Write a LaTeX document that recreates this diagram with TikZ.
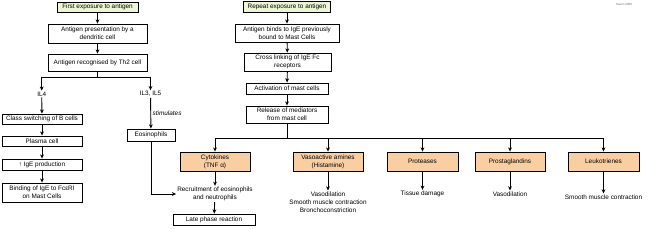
\documentclass[tikz,border=0pt]{standalone}
\usepackage{fontspec}
\setmainfont{Liberation Sans}
\usetikzlibrary{arrows.meta}
\definecolor{startgreen}{RGB}{236,246,212}
\definecolor{medorange}{RGB}{249,207,162}
\tikzset{
  every node/.style={font=\fontsize{6.4}{8}\selectfont, inner sep=0.5pt},
  box/.style={draw=black, line width=0.9pt, fill=white, rectangle, align=center, inner sep=1pt},
  startbox/.style={box, fill=startgreen},
  medbox/.style={box, fill=medorange},
  plain/.style={align=center, inner sep=1pt},
  conn/.style={line width=0.9pt, draw=black},
  arr/.style={conn, -{Stealth[length=4.2pt,width=3.8pt]}}
}
\begin{document}
\begin{tikzpicture}[x=1pt,y=-1pt]
\useasboundingbox (0,0) rectangle (648,228);
% Left column
\node[startbox, minimum width=81pt, minimum height=10pt] (f1) at (97.5,7) {First exposure to antigen};
\node[box, minimum width=99pt, minimum height=19pt] (a1) at (97.5,33.5) {Antigen presentation by a\\dendritic cell};
\node[box, minimum width=99pt, minimum height=17pt] (a2) at (97.5,62.5) {Antigen recognised by Th2 cell};
\coordinate (j1) at (97.5,77);
\node[plain] (il4) at (41.7,94) {IL4};
\node[plain] (il35) at (150.5,94) {IL3, IL5};
\node[box, minimum width=80pt, minimum height=10pt] (b1) at (42,119) {Class switching of B cells};
\node[box, minimum width=80pt, minimum height=10pt] (b2) at (42,141) {Plasma cell};
\node[box, minimum width=80pt, minimum height=11pt] (b3) at (42,164.5) {↑ IgE production};
\node[box, minimum width=80pt, minimum height=19pt] (b4) at (42,192.5) {Binding of IgE to FcεRI\\on Mast Cells};
\node[box, minimum width=48pt, minimum height=12pt] (eos) at (151,135) {Eosinophils};
% Right column
\node[startbox, minimum width=87pt, minimum height=11pt] (r0) at (287,6.5) {Repeat exposure to antigen};
\node[box, minimum width=104pt, minimum height=18pt] (r1) at (287,33) {Antigen binds to IgE previously\\bound to Mast Cells};
\node[box, minimum width=87pt, minimum height=18pt] (r2) at (287.5,62) {Cross linking of IgE Fc\\receptors};
\node[box, minimum width=82pt, minimum height=11pt] (r3) at (287,88.5) {Activation of mast cells};
\node[box, minimum width=82pt, minimum height=17pt] (r4) at (287,114.5) {Release of mediators\\from mast cell};
\coordinate (j2) at (287,138);
% Mediators
\node[medbox, minimum width=70pt, minimum height=19pt] (m1) at (215,161.5) {Cytokines\\(TNF α)};
\node[medbox, minimum width=70pt, minimum height=19pt] (m2) at (328,161.5) {Vasoactive amines\\(Histamine)};
\node[medbox, minimum width=71pt, minimum height=19pt] (m3) at (422.5,161.5) {Proteases};
\node[medbox, minimum width=70pt, minimum height=19pt] (m4) at (510,161.5) {Prostaglandins};
\node[medbox, minimum width=71pt, minimum height=19pt] (m5) at (603.5,161.5) {Leukotrienes};
% Effects
\node[plain] (rec) at (215,194) {Recruitment of eosinophils\\and neutrophils};
\node[box, minimum width=82pt, minimum height=11pt] (late) at (214,219.5) {Late phase reaction};
\node[plain] (e2) at (328,202) {Vasodilation\\Smooth muscle contraction\\Bronchoconstriction};
\node[plain] (e3) at (422.5,194) {Tissue damage};
\node[plain] (e4) at (510,194) {Vasodilation};
\node[plain] (e5) at (603.5,197) {Smooth muscle contraction};
\node[plain, font=\fontsize{3}{4}\selectfont, text=black!60] (src) at (624,4) {Saxon 2009};
% Connectors left
\draw[arr] (f1) -- (a1);
\draw[arr] (a1) -- (a2);
\draw[conn] (a2) -- (j1);
\draw[arr] (j1) -| (il4);
\draw[arr] (j1) -| (il35);
\draw[arr] (il4) -- (b1);
\draw[arr] (b1) -- (b2);
\draw[arr] (b2) -- (b3);
\draw[arr] (b3) -- (b4);
\draw[arr] (il35) -- node[right, xshift=1pt, font=\fontsize{6.4}{8}\selectfont\itshape] {stimulates} (eos);
\draw[arr] (eos) |- (rec.west);
% Connectors right
\draw[arr] (r0) -- (r1);
\draw[arr] (r1) -- (r2);
\draw[arr] (r2) -- (r3);
\draw[arr] (r3) -- (r4);
\draw[conn] (r4) -- (j2);
\draw[arr] (j2) -| (m1);
\draw[arr] (j2) -| (m5);
\draw[arr] (j2 -| m2) -- (m2);
\draw[arr] (j2 -| m3) -- (m3);
\draw[arr] (j2 -| m4) -- (m4);
\draw[arr] (m1) -- (rec);
\draw[arr] (rec) -- (late);
\draw[arr] (m2) -- (e2);
\draw[arr] (m3) -- (e3);
\draw[arr] (m4) -- (e4);
\draw[arr] (m5) -- (e5);
\end{tikzpicture}
\end{document}
